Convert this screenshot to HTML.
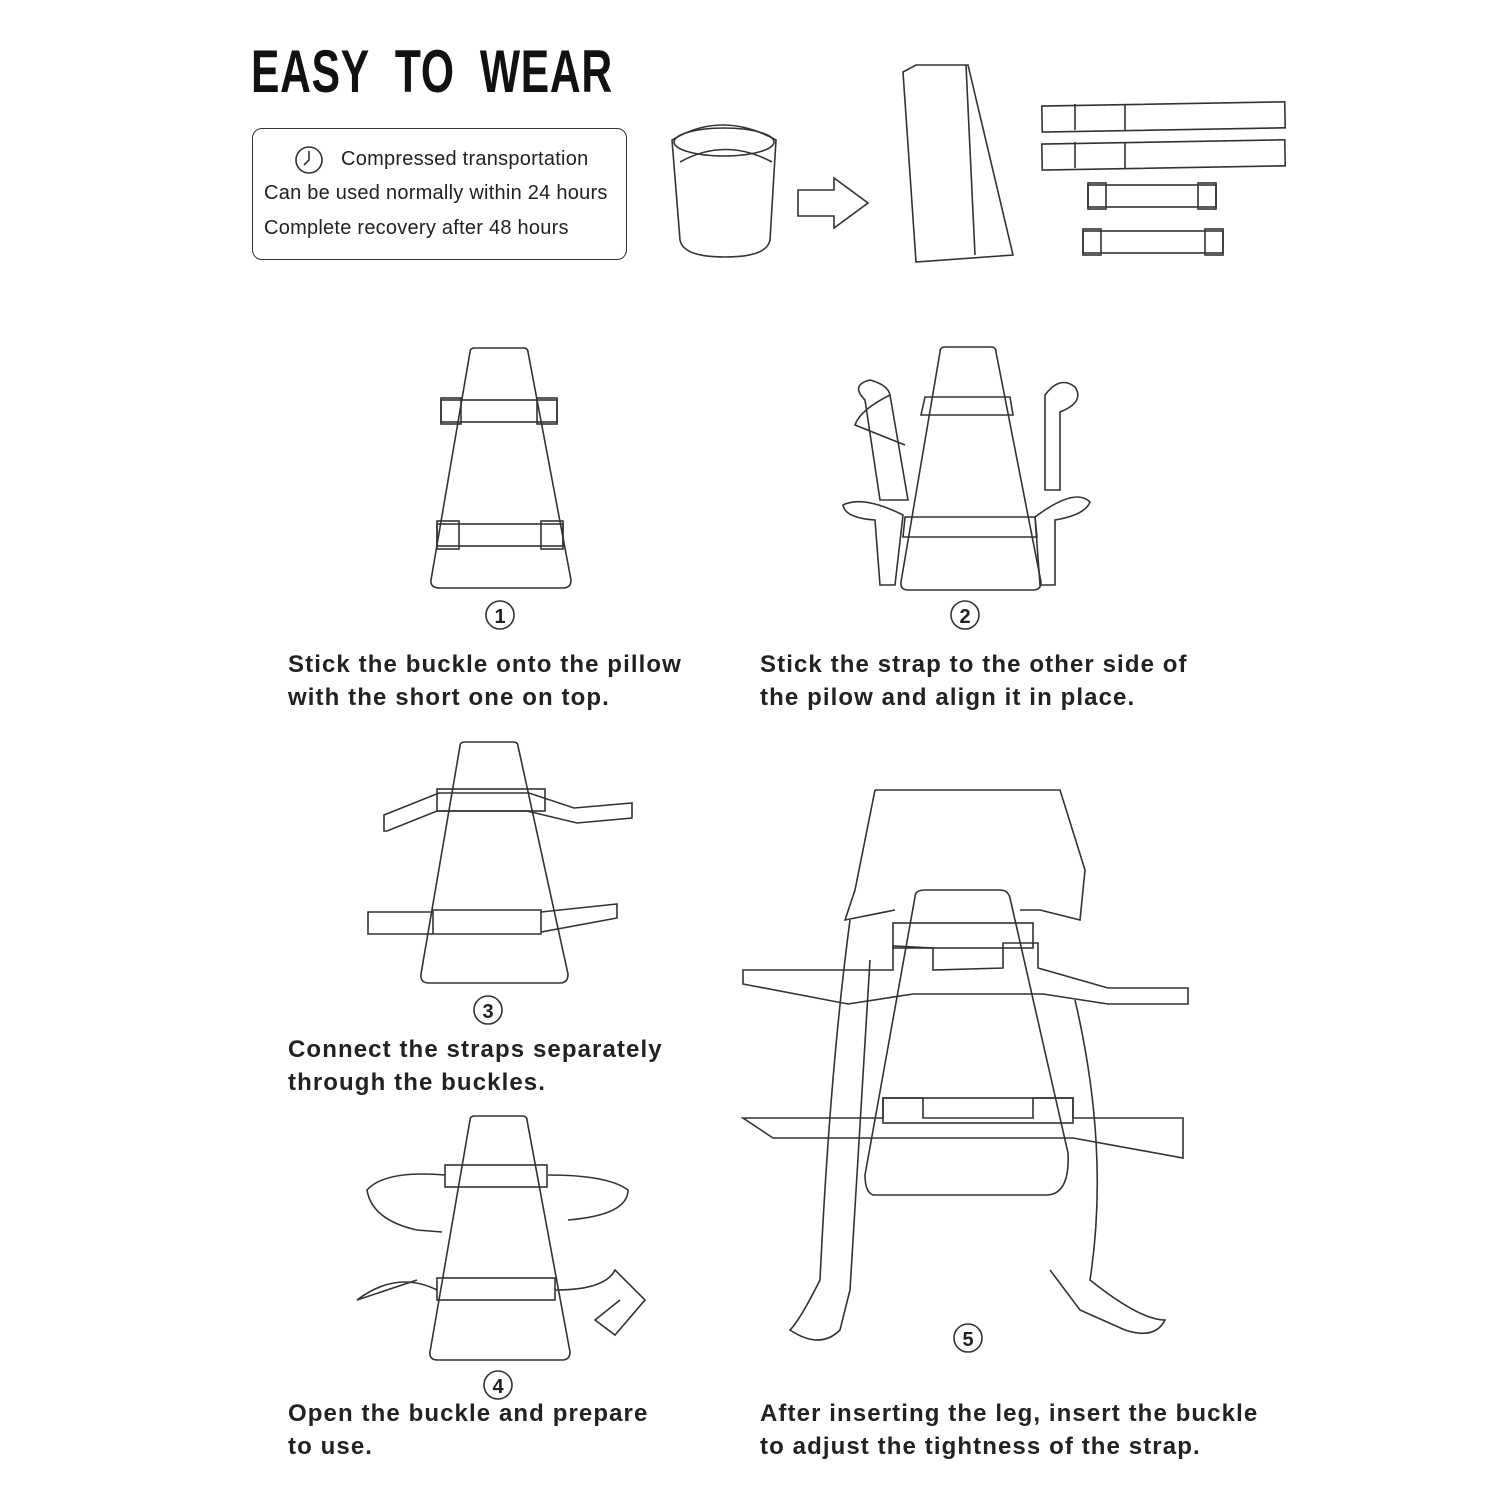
<!DOCTYPE html>
<html><head><meta charset="utf-8"><style>
body{margin:0;background:#fff;}
.w{position:relative;width:1500px;height:1500px;overflow:hidden;font-family:"Liberation Sans",sans-serif;color:#222;}
.t{position:absolute;white-space:nowrap;}
.cap{font-weight:bold;font-size:24px;letter-spacing:1.1px;line-height:33px;}
.box{position:absolute;left:252px;top:128px;width:375px;height:132px;border:1.5px solid #333;border-radius:10px;box-sizing:border-box;}
.bt{font-size:20px;letter-spacing:0.25px;}
svg{position:absolute;left:0;top:0;}
</style></head><body><div class="w">
<div class="t" style="left:251px;top:37px;font-family:'Liberation Sans',sans-serif;font-size:60px;font-weight:bold;transform:scaleX(0.71);transform-origin:left;letter-spacing:1px;color:#111;">EASY&nbsp; TO&nbsp; WEAR</div>
<div class="box"></div>
<div class="t bt" style="left:341px;top:148px;">Compressed transportation</div>
<div class="t bt" style="left:264px;top:182px;">Can be used normally within 24 hours</div>
<div class="t bt" style="left:264px;top:217px;">Complete recovery after 48 hours</div>
<div class="t cap" style="left:288px;top:648px;">Stick the buckle onto the pillow<br>with the short one on top.</div>
<div class="t cap" style="left:760px;top:648px;">Stick the strap to the other side of<br>the pilow and align it in place.</div>
<div class="t cap" style="left:288px;top:1033px;">Connect the straps separately<br>through the buckles.</div>
<div class="t cap" style="left:288px;top:1397px;">Open the buckle and prepare<br>to use.</div>
<div class="t cap" style="left:760px;top:1397px;">After inserting the leg, insert the buckle<br>to adjust the tightness of the strap.</div>
<svg width="1500" height="1500" fill="none" stroke="#333" stroke-width="1.6">
<circle cx="309" cy="160" r="13"/><path d="M309 151v9l-5 5"/>
<path d="M672 140q50-30 104 0l-6 100q-3 17-45 17t-45-17z"/><ellipse cx="724" cy="142" rx="50" ry="14"/><path d="M680 162q45-25 92 0"/>
<path d="M798 190h36v-12l34 25-34 25v-12h-36z"/>
<path d="M916 65h52l45 190-97 7-13-190z"/><path d="M966 65l9 190"/>
<rect x="1042" y="104" width="243" height="26" transform="rotate(-1 1160 117)"/><path d="M1075 104v26M1125 104v26"/>
<rect x="1042" y="142" width="243" height="26" transform="rotate(-1 1160 155)"/><path d="M1075 142v26M1125 142v26"/>
<rect x="1088" y="185" width="128" height="22"/><rect x="1088" y="183" width="18" height="26"/><rect x="1198" y="183" width="18" height="26"/>
<rect x="1083" y="231" width="140" height="22"/><rect x="1083" y="229" width="18" height="26"/><rect x="1205" y="229" width="18" height="26"/>
<path d="M470 352q0-4 5-4h48q5 0 5 4l43 228q0 8-8 8h-123q-10 0-9-8z"/>
<rect x="441" y="400" width="116" height="22"/><rect x="441" y="398" width="20" height="26"/><rect x="537" y="398" width="20" height="26"/>
<rect x="437" y="524" width="126" height="22"/><rect x="437" y="521" width="22" height="28"/><rect x="541" y="521" width="22" height="28"/>
<circle cx="500" cy="615" r="14"/><text x="500" y="623" font-size="20" fill="#222" stroke="none" text-anchor="middle" font-weight="bold">1</text>
<path d="M940 352q0-5 5-5h46q5 0 5 5l45 230q0 8-8 8h-125q-8 0-7-8z"/>
<path d="M925 397h85l3 18h-92z"/><path d="M905 517h130l2 20h-134z"/>
<path d="M880 500l-15-100q-15-15 5-20q18 5 20 15l18 105zM890 395q-30 15-35 30l50 20"/>
<path d="M1045 490l0-95q15-20 30-8q10 15-15 25l0 78z"/>
<path d="M880 585l-5-65q-30-2-32-15q20-10 60 10l-8 70z"/>
<path d="M1055 585l0-65q30-5 35-18q-15-15-55 15l5 68z"/>
<circle cx="965" cy="615" r="14"/><text x="965" y="623" font-size="20" fill="#222" stroke="none" text-anchor="middle" font-weight="bold">2</text>
<path d="M460 746q0-4 5-4h48q5 0 5 4l50 228q0 9-8 9h-131q-9 0-8-9z"/>
<path d="M384 815l55-22h90l45 15 58-5v15l-55 5-50-12h-90l-50 20-3 0z"/>
<rect x="437" y="789" width="108" height="22"/>
<path d="M368 912h65v22h-65zM433 910h108v24h-108zM541 912l76-8v14l-76 14z"/>
<circle cx="488" cy="1010" r="14"/><text x="488" y="1018" font-size="20" fill="#222" stroke="none" text-anchor="middle" font-weight="bold">3</text>
<path d="M470 1120q0-4 5-4h47q5 0 5 4l43 232q0 8-8 8h-124q-9 0-8-8z"/>
<rect x="445" y="1165" width="102" height="22"/>
<path d="M445 1175q-60-5-78 15q5 30 50 40l25 2M548 1175q60 0 80 15q0 25-60 30"/>
<rect x="437" y="1278" width="118" height="22"/>
<path d="M437 1290q-40-20-80 10l60 -20M555 1290q50 0 60 -20l30 30-30 35l-20-15 25-20"/>
<circle cx="498" cy="1385" r="14"/><text x="498" y="1393" font-size="20" fill="#222" stroke="none" text-anchor="middle" font-weight="bold">4</text>
<path d="M875 790h185l25 80-5 50-40-10-20 0M875 790l-20 100-10 30 50-10"/>
<path d="M940 890h60q8 0 10 8l58 255q2 40-20 42h-175q-8-3-8-20l50-278q0-7 10-7z"/>
<path d="M743 970h150l0-24 40 2 0 22 70-2v-25h35v25l70 20h80v16h-80l-65-10-130 0-65 10-105-20z"/>
<rect x="893" y="923" width="140" height="25"/>
<path d="M743 1118h140v-20h40v20h110v-20h40v20h110l0 40-110-20h-300z"/>
<rect x="883" y="1098" width="190" height="25"/>
<path d="M850 920q-20 150-30 360-20 40-30 50 30 20 50 0l10-40 20-330M1075 1000q35 150 15 280 50 40 75 40-10 20-40 10l-45-20-30-40"/>
<circle cx="968" cy="1338" r="14"/><text x="968" y="1346" font-size="20" fill="#222" stroke="none" text-anchor="middle" font-weight="bold">5</text>
</svg>
</div></body></html>
